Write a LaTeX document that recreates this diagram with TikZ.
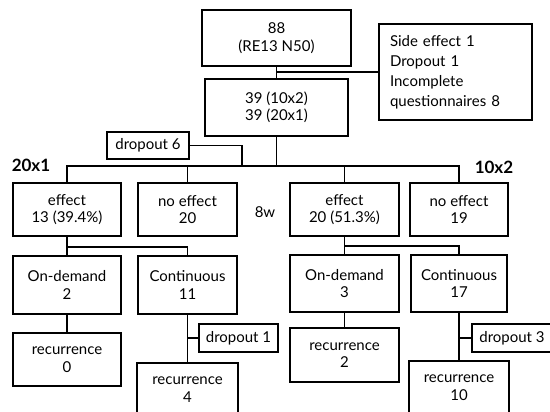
\documentclass[tikz,border=0pt]{standalone}
\usepackage{fontspec}
\setmainfont{Lato}
\usetikzlibrary{calc}

\begin{document}
\begin{tikzpicture}[x=1pt, y=-1pt, line width=1.6pt,
    box/.style={draw, fill=white, align=center, inner sep=0pt,
      font=\fontsize{15}{17.5}\selectfont},
    arm/.style={font=\fontsize{17}{20}\selectfont\bfseries}]
    \useasboundingbox (0,0) rectangle (550,412);

    % top of the chart
    \node[box, minimum width=149, minimum height=56] (top) at (276.5,38) {88\\(RE13 N50)};
    \node[box, align=left, text width=131, inner xsep=11, minimum height=96,
      font=\fontsize{15}{20}\selectfont] (side) at (455.5,72)
        {Side effect 1\\Dropout 1\\Incomplete\\questionnaires 8};
    \node[box, minimum width=143, minimum height=57] (box39) at (276.5,107.5) {39 (10x2)\\39 (20x1)};
    \node[box, minimum width=82, minimum height=27] (drop6) at (148,145.5) {dropout 6};

    \draw (top) -- (box39);
    \draw (top.south |- side.west) -- (side.west);

    \coordinate (split) at (276.5,166);
    \coordinate (d6) at (242,166);

    % 8 weeks
    \node[box, minimum width=108, minimum height=53] (effL) at (67,209.5) {effect\\13 (39.4\%)};
    \node[box, minimum width=99, minimum height=53] (noeffL) at (187.5,209.5) {no effect\\20};
    \node[box, minimum width=109, minimum height=53] (effR) at (344.5,209.5) {effect\\20 (51.3\%)};
    \node[box, minimum width=98, minimum height=53] (noeffR) at (459,209.5) {no effect\\19};

    \draw (box39) -- (split);
    \draw (effL) |- (split) -| (noeffR);
    \draw (noeffL) -- (noeffL |- split);
    \draw (effR) -- (effR |- split);
    \draw (drop6) -| (d6);

    \node[arm] (g20) at (31,165) {20x1};
    \node[arm] (g10) at (494,167) {10x2};
    \node[font=\fontsize{15}{17.5}\selectfont] (wk) at (265,212) {8w};

    % left arm
    \node[box, minimum width=108, minimum height=58] (ondL) at (67,285) {On-demand\\2};
    \node[box, minimum width=99, minimum height=58] (contL) at (187.5,285) {Continuous\\11};
    \node[box, minimum width=108, minimum height=53] (recL0) at (67,359.5) {recurrence\\0};
    \node[box, minimum width=101, minimum height=53] (recL4) at (187.5,389.5) {recurrence\\4};
    \node[box, minimum width=79, minimum height=28] (drop1) at (238.5,338) {dropout 1};

    \coordinate (lsplit) at (67,247);
    \draw (effL) -- (ondL);
    \draw (lsplit) -| (contL);
    \draw (ondL) -- (recL0);
    \draw (contL) -- (recL4);
    \draw (drop1) -- (drop1 -| contL);

    % right arm
    \node[box, minimum width=109, minimum height=57] (ondR) at (344.5,283.5) {On-demand\\3};
    \node[box, minimum width=96, minimum height=57] (contR) at (459,283.5) {Continuous\\17};
    \node[box, minimum width=109, minimum height=54] (recR2) at (344.5,355) {recurrence\\2};
    \node[box, minimum width=100, minimum height=53] (recR10) at (459,387.5) {recurrence\\10};
    \node[box, minimum width=80, minimum height=28] (drop3) at (512,338) {dropout 3};

    \coordinate (rsplit) at (344.5,246);
    \draw (effR) -- (ondR);
    \draw (rsplit) -| (contR);
    \draw (ondR) -- (recR2);
    \draw (contR) -- (recR10);
    \draw (drop3) -- (drop3 -| contR);
\end{tikzpicture}
\end{document}
